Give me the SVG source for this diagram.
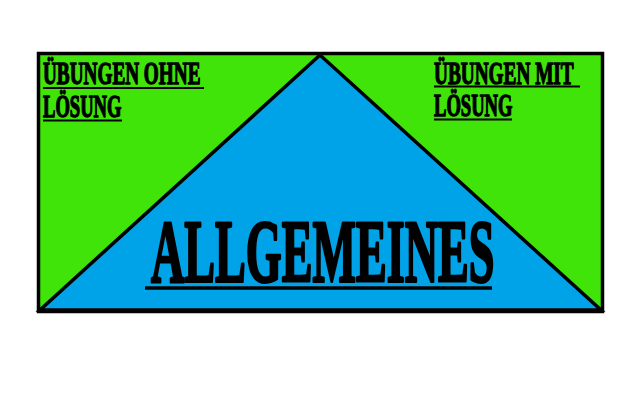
<svg xmlns="http://www.w3.org/2000/svg" width="629" height="409" viewBox="0 0 629 409">
<style>
.lbl{font-family:"Liberation Serif","DejaVu Serif",serif;font-weight:bold;fill:#000;stroke:#000;stroke-linejoin:round}
.sm{font-size:31px;stroke-width:1.4}
.big{font-size:88px;stroke-width:3}
.ul{stroke:#000;fill:none}
</style>
<rect width="629" height="409" fill="#fff"/>
<g id="frame">
<rect x="38.5" y="53.5" width="564" height="258" fill="#40E408" stroke="#000" stroke-width="3.5"/>
</g>
<g id="triangle">
<polygon points="320,55 40,310 601,310" fill="#00A2E8" stroke="#000" stroke-width="3.5"/>
</g>
<g id="node-ohne">
<text class="lbl sm" transform="translate(43,83.5) scale(0.62,1)" x="0" y="0">ÜBUNGEN OHNE</text>
<line class="ul" x1="43" y1="88" x2="204" y2="88" stroke-width="2"/>
<text class="lbl sm" transform="translate(43,116.5) scale(0.6,1)" x="0" y="0">LÖSUNG</text>
<line class="ul" x1="43" y1="120.5" x2="122" y2="120.5" stroke-width="2"/>
</g>
<g id="node-mit">
<text class="lbl sm" transform="translate(434,83.5) scale(0.622,1)" x="0" y="0">ÜBUNGEN MIT</text>
<line class="ul" x1="434" y1="86.5" x2="580" y2="86.5" stroke-width="2"/>
<text class="lbl sm" transform="translate(434,115.5) scale(0.6,1)" x="0" y="0">LÖSUNG</text>
<line class="ul" x1="434" y1="119.5" x2="512" y2="119.5" stroke-width="2"/>
</g>
<g id="node-allgemeines">
<text class="lbl big" transform="translate(151,281) scale(0.524,1)" x="0" y="0">ALLGEMEINES</text>
<line class="ul" x1="145" y1="288" x2="492" y2="288" stroke-width="3.5"/>
</g>
<g id="connectors"></g>
</svg>
